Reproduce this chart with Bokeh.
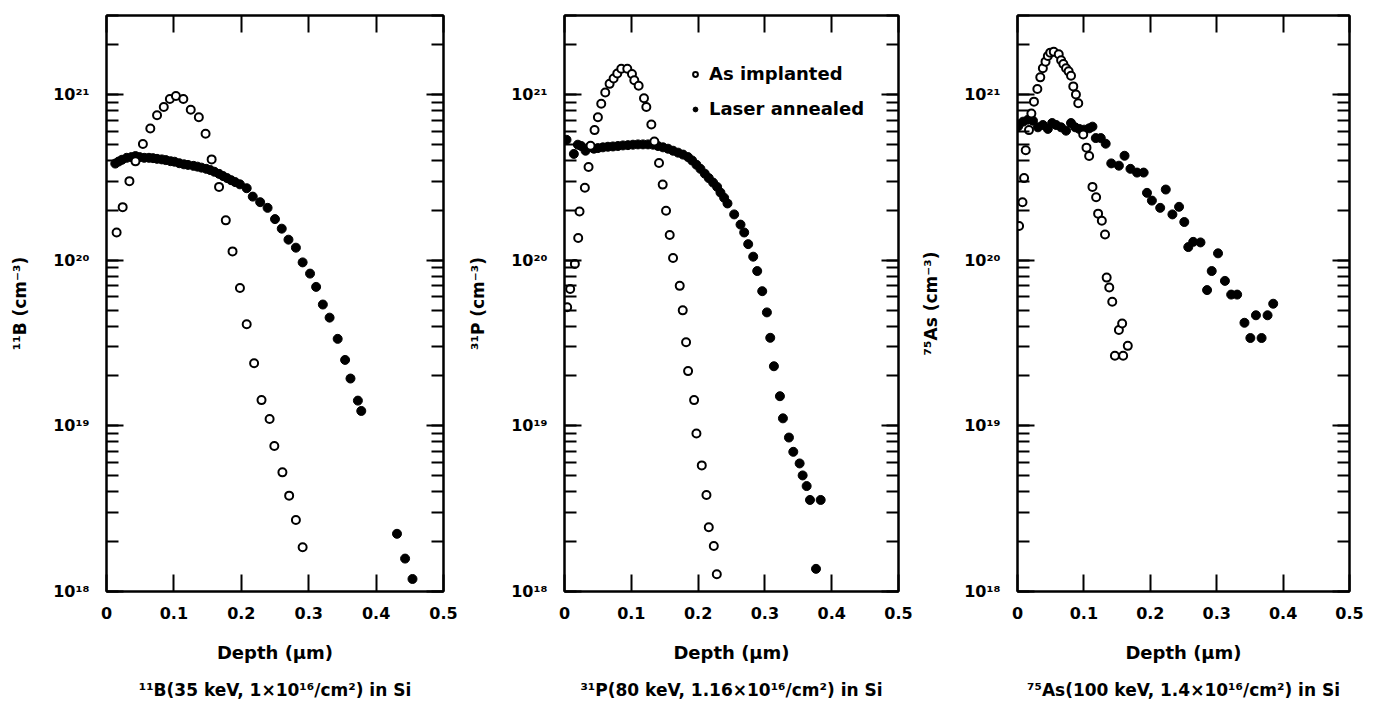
from bokeh.plotting import figure
from bokeh.models import (FixedTicker, LogTicker, LinearAxis, LogAxis,
                          CustomJSTickFormatter, Legend, LegendItem)
from bokeh.layouts import row
from bokeh.embed import file_html
from bokeh.resources import INLINE

# ---------------- data (depth in um, concentration in cm^-3) ----------------
b_impl_depth = [0.015, 0.024, 0.034, 0.043, 0.054, 0.065, 0.075, 0.085, 0.094, 0.103,
                0.114, 0.125, 0.137, 0.147, 0.156, 0.167, 0.177, 0.187, 0.198, 0.208,
                0.219, 0.230, 0.242, 0.249, 0.261, 0.271, 0.281, 0.291]
b_impl_conc = [1.47e20, 2.09e20, 3.0e20, 3.95e20, 5.03e20, 6.24e20, 7.5e20, 8.4e20, 9.4e20, 9.8e20,
               9.4e20, 8.1e20, 7.3e20, 5.8e20, 4.06e20, 2.77e20, 1.74e20, 1.13e20, 6.8e19, 4.1e19,
               2.39e19, 1.43e19, 1.10e19, 7.55e18, 5.24e18, 3.79e18, 2.70e18, 1.85e18]
b_ann_depth = [0.013, 0.018, 0.023, 0.030, 0.037, 0.043, 0.049, 0.056, 0.063, 0.069,
               0.075, 0.082, 0.088, 0.095, 0.101, 0.108, 0.115, 0.121, 0.129, 0.135,
               0.141, 0.148, 0.154, 0.160, 0.167, 0.173, 0.179, 0.185, 0.191, 0.198,
               0.208, 0.217, 0.228, 0.239, 0.250, 0.260, 0.270, 0.281, 0.291, 0.302,
               0.311, 0.321, 0.331, 0.343, 0.354, 0.362, 0.373, 0.378, 0.431, 0.443, 0.454]
b_ann_conc = [3.83e20, 3.94e20, 4.04e20, 4.15e20, 4.19e20, 4.25e20, 4.19e20, 4.15e20, 4.15e20, 4.13e20,
              4.09e20, 4.06e20, 4.02e20, 3.96e20, 3.93e20, 3.85e20, 3.79e20, 3.76e20, 3.71e20, 3.67e20,
              3.62e20, 3.56e20, 3.50e20, 3.42e20, 3.32e20, 3.22e20, 3.13e20, 3.04e20, 2.96e20, 2.87e20,
              2.72e20, 2.42e20, 2.24e20, 2.07e20, 1.77e20, 1.55e20, 1.33e20, 1.19e20, 9.7e19, 8.3e19,
              6.9e19, 5.4e19, 4.5e19, 3.35e19, 2.5e19, 1.93e19, 1.42e19, 1.23e19, 2.23e18, 1.58e18, 1.19e18]

p_impl_depth = [0.004, 0.0085, 0.0155, 0.0205, 0.0225, 0.0305, 0.036, 0.039, 0.045, 0.050,
                0.055, 0.061, 0.0675, 0.0735, 0.079, 0.085, 0.094, 0.101, 0.1045, 0.111,
                0.119, 0.1225, 0.130, 0.1345, 0.1415, 0.147, 0.152, 0.1575, 0.1625, 0.1725,
                0.177, 0.182, 0.185, 0.194, 0.1975, 0.2055, 0.2125, 0.216, 0.2235, 0.228]
p_impl_conc = [5.2e19, 6.7e19, 9.5e19, 1.36e20, 1.97e20, 2.74e20, 3.65e20, 4.9e20, 6.1e20, 7.3e20,
               8.8e20, 1.03e21, 1.16e21, 1.25e21, 1.34e21, 1.43e21, 1.43e21, 1.33e21, 1.22e21, 1.13e21,
               9.5e20, 8.4e20, 6.6e20, 5.2e20, 3.86e20, 2.86e20, 1.99e20, 1.42e20, 1.03e20, 7.0e19,
               4.98e19, 3.2e19, 2.14e19, 1.43e19, 9.0e18, 5.77e18, 3.82e18, 2.44e18, 1.88e18, 1.27e18]
p_ann_depth = [0.003, 0.014, 0.020, 0.025, 0.0315, 0.0375, 0.044, 0.050, 0.0575, 0.065,
               0.0725, 0.080, 0.0875, 0.095, 0.1025, 0.110, 0.1175, 0.125, 0.1325, 0.140,
               0.1475, 0.155, 0.1625, 0.170, 0.1775, 0.185, 0.191, 0.1975, 0.2035, 0.210,
               0.216, 0.2225, 0.2285, 0.2335, 0.239, 0.244, 0.254, 0.2635, 0.269, 0.275,
               0.2825, 0.2885, 0.296, 0.303, 0.308, 0.3135, 0.3225, 0.327, 0.336, 0.3425,
               0.352, 0.3565, 0.3625, 0.3675, 0.3835, 0.3765]
p_ann_conc = [5.33e20, 4.38e20, 4.98e20, 4.89e20, 4.58e20, 4.82e20, 4.71e20, 4.75e20, 4.80e20, 4.84e20,
              4.86e20, 4.89e20, 4.93e20, 4.95e20, 4.98e20, 5.0e20, 5.0e20, 5.0e20, 4.98e20, 4.89e20,
              4.80e20, 4.71e20, 4.58e20, 4.46e20, 4.34e20, 4.19e20, 4.0e20, 3.77e20, 3.56e20, 3.33e20,
              3.13e20, 2.94e20, 2.77e20, 2.56e20, 2.38e20, 2.2e20, 1.89e20, 1.64e20, 1.47e20, 1.25e20,
              1.05e20, 8.6e19, 6.5e19, 4.84e19, 3.4e19, 2.29e19, 1.51e19, 1.11e19, 8.5e18, 6.97e18,
              5.93e18, 5.02e18, 4.33e18, 3.57e18, 3.57e18, 1.37e18]

as_impl_depth = [0.0024, 0.0075, 0.0099, 0.0124, 0.0173, 0.0209, 0.0248, 0.0299, 0.0343, 0.0382,
                 0.0422, 0.0457, 0.0493, 0.0546, 0.0621, 0.0657, 0.0691, 0.0731, 0.077, 0.0806,
                 0.084, 0.088, 0.0915, 0.099, 0.1039, 0.1079, 0.1129, 0.1184, 0.1214, 0.127,
                 0.1318, 0.1343, 0.1382, 0.1427, 0.1527, 0.1576, 0.1661, 0.1467, 0.1591]
as_impl_conc = [1.61e20, 2.24e20, 3.13e20, 4.61e20, 6.1e20, 7.67e20, 9.06e20, 1.08e21, 1.27e21, 1.44e21,
                1.58e21, 1.71e21, 1.79e21, 1.81e21, 1.75e21, 1.61e21, 1.53e21, 1.44e21, 1.38e21, 1.30e21,
                1.12e21, 1.0e21, 8.85e20, 5.74e20, 4.78e20, 4.26e20, 2.77e20, 2.4e20, 1.91e20, 1.73e20,
                1.43e20, 7.85e19, 6.84e19, 5.61e19, 3.79e19, 4.15e19, 3.04e19, 2.65e19, 2.65e19]
as_ann_depth = [0.001, 0.0084, 0.0158, 0.0233, 0.0308, 0.0382, 0.0457, 0.0522, 0.0582, 0.0657,
                0.0731, 0.0806, 0.087, 0.093, 0.1004, 0.1079, 0.1129, 0.1179, 0.1254, 0.1328,
                0.1412, 0.1527, 0.1612, 0.1701, 0.18, 0.19, 0.195, 0.2024, 0.2149, 0.2233,
                0.2333, 0.2433, 0.2512, 0.2572, 0.2646, 0.2756, 0.2855, 0.2925, 0.302, 0.3124,
                0.3218, 0.3308, 0.3418, 0.3507, 0.3591, 0.3676, 0.3766, 0.3851]
as_ann_conc = [6.43e20, 6.86e20, 7.05e20, 6.95e20, 6.34e20, 6.55e20, 6.2e20, 6.73e20, 6.55e20, 6.34e20,
               6.05e20, 6.73e20, 6.34e20, 6.2e20, 6.14e20, 6.25e20, 6.4e20, 5.46e20, 5.46e20, 5.05e20,
               3.84e20, 3.72e20, 4.27e20, 3.56e20, 3.38e20, 3.38e20, 2.55e20, 2.29e20, 2.07e20, 2.67e20,
               1.89e20, 2.1e20, 1.70e20, 1.2e20, 1.29e20, 1.28e20, 6.6e19, 8.6e19, 1.1e20, 7.5e19,
               6.2e19, 6.2e19, 4.19e19, 3.39e19, 4.65e19, 3.39e19, 4.65e19, 5.46e19]

x_ticks = [0, 0.1, 0.2, 0.3, 0.4, 0.5]
y_labels = ["¹¹B (cm⁻³)", "³¹P (cm⁻³)", "⁷⁵As (cm⁻³)"]
captions = ["¹¹B(35 keV, 1×10¹⁶/cm²) in Si",
            "³¹P(80 keV, 1.16×10¹⁶/cm²) in Si",
            "⁷⁵As(100 keV, 1.4×10¹⁶/cm²) in Si"]
legend_labels = ["As implanted", "Laser annealed"]

FONT = "DejaVu Sans"
H = 702
FRAME_H = 580

x_fmt_code = "return tick == 0 ? '0' : tick.toFixed(1);"
y_fmt_code = """
const s = {'0':'⁰','1':'¹','2':'²','3':'³','4':'⁴','5':'⁵','6':'⁶','7':'⁷','8':'⁸','9':'⁹','-':'⁻'};
const e = Math.round(Math.log10(tick));
return '10' + String(e).split('').map(c => s[c]).join('');
"""


def style_axis(ax):
    ax.axis_line_width = 2
    ax.axis_line_color = "black"
    ax.major_tick_in = 17
    ax.major_tick_out = 0
    ax.minor_tick_in = 12
    ax.minor_tick_out = 0
    ax.major_tick_line_width = 2
    ax.minor_tick_line_width = 2
    ax.major_tick_line_color = "black"
    ax.minor_tick_line_color = "black"


def hide_labels(ax):
    ax.formatter = CustomJSTickFormatter(code="return '';")
    ax.major_label_text_font_size = "1px"
    ax.major_label_standoff = 0


def make_panel(width, b_left, b_right, b_top, ylabel, caption, ix, iy, ax_, ay, legend=False):
    p = figure(width=width, height=H, x_range=(0, 0.5), y_range=(1e18, 3e21),
               y_axis_type="log", output_backend="svg", toolbar_location=None,
               min_border_left=b_left, min_border_right=b_right,
               min_border_top=b_top, min_border_bottom=H - FRAME_H - b_top)
    p.background_fill_color = "white"
    p.border_fill_color = "white"
    p.outline_line_color = "black"
    p.outline_line_width = 2
    p.xgrid.grid_line_color = None
    p.ygrid.grid_line_color = None

    xa = p.xaxis[0]
    xa.ticker = FixedTicker(ticks=x_ticks, minor_ticks=[])
    xa.formatter = CustomJSTickFormatter(code=x_fmt_code)
    style_axis(xa)
    xa.major_label_standoff = 15
    xa.major_label_text_font = FONT
    xa.major_label_text_font_style = "bold"
    xa.major_label_text_font_size = "16px"
    xa.major_label_text_color = "black"
    xa.axis_label = "Depth (μm)"
    xa.axis_label_text_font = FONT
    xa.axis_label_text_font_style = "bold"
    xa.axis_label_text_font_size = "18px"
    xa.axis_label_text_color = "black"
    xa.axis_label_standoff = 20

    # caption line below the x axis (an empty axis that only carries a label)
    cap = LinearAxis(ticker=FixedTicker(ticks=[], minor_ticks=[]),
                     axis_line_color=None, major_tick_line_color=None,
                     minor_tick_line_color=None, major_tick_in=0, major_tick_out=0,
                     minor_tick_in=0, minor_tick_out=0,
                     axis_label=caption, axis_label_standoff=14,
                     axis_label_text_font=FONT, axis_label_text_font_style="bold",
                     axis_label_text_font_size="17px", axis_label_text_color="black")
    hide_labels(cap)
    p.add_layout(cap, "below")

    ya = p.yaxis[0]
    ya.ticker = LogTicker(num_minor_ticks=10)
    ya.formatter = CustomJSTickFormatter(code=y_fmt_code)
    style_axis(ya)
    ya.major_label_standoff = 17
    ya.major_label_text_font = FONT
    ya.major_label_text_font_style = "bold"
    ya.major_label_text_font_size = "16px"
    ya.major_label_text_color = "black"
    ya.axis_label = ylabel
    ya.axis_label_text_font = FONT
    ya.axis_label_text_font_style = "bold"
    ya.axis_label_text_font_size = "17px"
    ya.axis_label_text_color = "black"
    ya.axis_label_standoff = 20

    top = LinearAxis(ticker=FixedTicker(ticks=x_ticks, minor_ticks=[]))
    style_axis(top)
    hide_labels(top)
    p.add_layout(top, "above")
    right = LogAxis(ticker=LogTicker(num_minor_ticks=10))
    style_axis(right)
    hide_labels(right)
    p.add_layout(right, "right")

    r_ann = p.scatter(ax_, ay, marker="circle", size=9, fill_color="black",
                      line_color="black", line_width=1)
    r_impl = p.scatter(ix, iy, marker="circle", size=8, fill_color="white",
                       line_color="black", line_width=2)

    if legend:
        lg = Legend(items=[LegendItem(label=legend_labels[0], renderers=[r_impl]),
                           LegendItem(label=legend_labels[1], renderers=[r_ann])],
                    location=(125, 472), orientation="vertical",
                    background_fill_alpha=0, border_line_color=None,
                    label_text_font=FONT, label_text_font_style="bold",
                    label_text_font_size="18px", label_text_color="black",
                    glyph_width=12, glyph_height=20,
                    label_height=20, label_standoff=8, spacing=14, padding=0, margin=0)
        p.add_layout(lg)
    return p


p1 = make_panel(463, 106, 20, 12, y_labels[0], captions[0],
                b_impl_depth, b_impl_conc, b_ann_depth, b_ann_conc)
p2 = make_panel(455, 101, 20, 13, y_labels[1], captions[1],
                p_impl_depth, p_impl_conc, p_ann_depth, p_ann_conc, legend=True)
p3 = make_panel(458, 95, 27, 15, y_labels[2], captions[2],
                as_impl_depth, as_impl_conc, as_ann_depth, as_ann_conc)

layout = row(p1, p2, p3)
open("out.html", "w").write(file_html(layout, INLINE))
